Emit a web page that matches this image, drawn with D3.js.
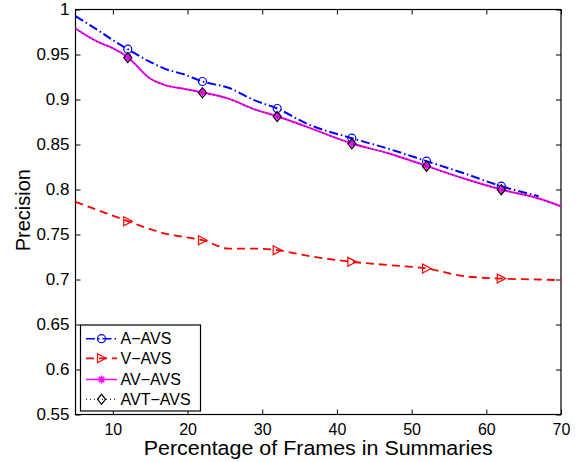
<!DOCTYPE html>
<html>
<head>
<meta charset="utf-8">
<script src="https://cdn.jsdelivr.net/npm/d3@7"></script>
<style>
  body { margin: 0; background: #fff; }
  text { font-family: "Liberation Sans", Arial, sans-serif; }
</style>
</head>
<body>
<div id="chart"></div>
<script>
// sample points along the curves (percentage of frames)
const xs = [5, 8, 10, 12, 15, 17, 19.5, 22, 25.5, 29, 32, 36, 42, 47, 52, 57, 62, 67, 70];
const markerXs = [12, 22, 32, 42, 52, 62];

const aAvs   = [0.9926, 0.977, 0.966, 0.9559, 0.9418, 0.934, 0.928, 0.920, 0.913, 0.899, 0.890, 0.873, 0.857, 0.845, 0.8315, 0.818, 0.8037, 0.7926, null];
const vAvs   = [0.7863, 0.777, 0.771, 0.7648, 0.756, 0.751, 0.7474, 0.7437, 0.7344, 0.7344, 0.7326, 0.7265, 0.7196, 0.716, 0.7122, 0.7037, 0.701, 0.700, 0.6992];
const avAvs  = [0.9789, 0.964, 0.957, 0.947, 0.9233, 0.916, 0.912, 0.9078, 0.901, 0.889, 0.8814, 0.8696, 0.8511, 0.840, 0.8262, 0.8122, 0.800, 0.790, 0.7814];
const avtAvs = [0.9785, 0.9635, 0.9565, 0.9465, 0.923, 0.9157, 0.9117, 0.9075, 0.9007, 0.8887, 0.8811, 0.8693, 0.8508, 0.8397, 0.8259, 0.812, 0.7998, 0.7898, 0.7812];

const xTicks = [10, 20, 30, 40, 50, 60, 70];
const yTicks = [0.55, 0.6, 0.65, 0.7, 0.75, 0.8, 0.85, 0.9, 0.95, 1];

const seriesNames = ["A\u2212AVS", "V\u2212AVS", "AV\u2212AVS", "AVT\u2212AVS"];

const width = 585, height = 462;
const plotLeft = 75.5, plotRight = 561, plotTop = 9.5, plotBottom = 414.5;

const svg = d3.select("#chart").append("svg")
  .attr("width", width).attr("height", height);

svg.append("rect").attr("width", width).attr("height", height).attr("fill", "#fff");

const xScale = d3.scaleLinear().domain([5, 70]).range([plotLeft, plotRight]);
const yScale = d3.scaleLinear().domain([0.55, 1]).range([plotBottom, plotTop]);

// axes with inward ticks on all sides
const fmtY = d => String(+d.toFixed(2));
svg.append("g").attr("transform", "translate(0," + plotBottom + ")")
  .call(d3.axisBottom(xScale).tickValues(xTicks).tickSizeInner(-5).tickSizeOuter(0).tickPadding(9))
  .call(g => g.selectAll("text").attr("font-size", 16).attr("fill", "#000"));
svg.append("g").attr("transform", "translate(0," + plotTop + ")")
  .call(d3.axisTop(xScale).tickValues(xTicks).tickSizeInner(-5).tickSizeOuter(0).tickFormat(""));
svg.append("g").attr("transform", "translate(" + plotLeft + ",0)")
  .call(d3.axisLeft(yScale).tickValues(yTicks).tickSizeInner(-5).tickSizeOuter(0).tickPadding(6).tickFormat(fmtY))
  .call(g => g.selectAll("text").attr("font-size", 17).attr("fill", "#000"));
svg.append("g").attr("transform", "translate(" + plotRight + ",0)")
  .call(d3.axisRight(yScale).tickValues(yTicks).tickSizeInner(-5).tickSizeOuter(0).tickFormat(""));
svg.selectAll(".domain").remove();
svg.selectAll(".tick line").attr("stroke", "#000");

svg.append("rect")
  .attr("x", plotLeft).attr("y", plotTop)
  .attr("width", plotRight - plotLeft).attr("height", plotBottom - plotTop)
  .attr("fill", "none").attr("stroke", "#000").attr("stroke-width", 1.2);

// labels
svg.append("text")
  .attr("transform", "translate(" + xScale(37.5) + ",455) scale(1.1,1)")
  .attr("text-anchor", "middle").attr("font-size", 19.5)
  .text("Percentage of Frames in Summaries");
svg.append("text")
  .attr("transform", "translate(29.5," + yScale(0.777) + ") rotate(-90)")
  .attr("text-anchor", "middle").attr("font-size", 20)
  .text("Precision");

const line = d3.line()
  .defined(d => d[1] != null)
  .x(d => xScale(d[0])).y(d => yScale(d[1]))
  .curve(d3.curveMonotoneX);

const series = [
  { name: seriesNames[0], vals: aAvs,   color: "#0000ff", dash: "9,3,1.5,3", width: 2, marker: "circle" },
  { name: seriesNames[1], vals: vAvs,   color: "#ff0000", dash: "8,5",       width: 1.8, marker: "triangle" },
  { name: seriesNames[2], vals: avAvs,  color: "#ff00ff", dash: null,        width: 2, marker: "star" },
  { name: seriesNames[3], vals: avtAvs, color: "#000000", dash: "1,3",       width: 1, marker: "diamond" }
];

function drawMarker(g, type, color, cx, cy) {
  if (type === "circle") {
    g.append("circle").attr("cx", cx).attr("cy", cy).attr("r", 4)
      .attr("fill", "none").attr("stroke", color).attr("stroke-width", 1.2);
  } else if (type === "triangle") {
    g.append("path")
      .attr("d", `M${cx - 4},${cy - 4.5}L${cx + 4.5},${cy}L${cx - 4},${cy + 4.5}Z`)
      .attr("fill", "none").attr("stroke", color).attr("stroke-width", 1.2);
  } else if (type === "star") {
    const r = 4;
    g.append("path")
      .attr("d", `M${cx - r},${cy}L${cx + r},${cy}M${cx},${cy - r}L${cx},${cy + r}` +
        `M${cx - r * 0.7},${cy - r * 0.7}L${cx + r * 0.7},${cy + r * 0.7}M${cx - r * 0.7},${cy + r * 0.7}L${cx + r * 0.7},${cy - r * 0.7}`)
      .attr("fill", "none").attr("stroke", color).attr("stroke-width", 1.5);
  } else if (type === "diamond") {
    g.append("path")
      .attr("d", `M${cx},${cy - 5}L${cx + 4},${cy}L${cx},${cy + 5}L${cx - 4},${cy}Z`)
      .attr("fill", "none").attr("stroke", color).attr("stroke-width", 1.2);
  }
}

const plot = svg.append("g");
series.forEach(s => {
  const pts = xs.map((x, i) => [x, s.vals[i]]);
  plot.append("path")
    .datum(pts)
    .attr("d", line)
    .attr("fill", "none")
    .attr("stroke", s.color)
    .attr("stroke-width", s.width)
    .attr("stroke-dasharray", s.dash);
  const mg = plot.append("g");
  pts.filter(p => markerXs.includes(p[0]) && p[1] != null)
    .forEach(p => drawMarker(mg, s.marker, s.color, xScale(p[0]), yScale(p[1])));
});

// legend
const lg = svg.append("g");
lg.append("rect")
  .attr("x", 80.5).attr("y", 325).attr("width", 120).attr("height", 86)
  .attr("fill", "#fff").attr("stroke", "#000").attr("stroke-width", 1.2);
const legendY = [338.7, 358.3, 379.5, 399.3];
series.forEach((s, i) => {
  const y = legendY[i];
  lg.append("line")
    .attr("x1", 86).attr("x2", 117).attr("y1", y).attr("y2", y)
    .attr("stroke", s.color).attr("stroke-width", s.width === 2 ? 1.5 : s.width)
    .attr("stroke-dasharray", s.dash);
  drawMarker(lg, s.marker, s.color, 101.5, y);
  lg.append("text")
    .attr("x", 120.5).attr("y", y + 5.5)
    .attr("font-size", 16)
    .text(s.name);
});
</script>
</body>
</html>
